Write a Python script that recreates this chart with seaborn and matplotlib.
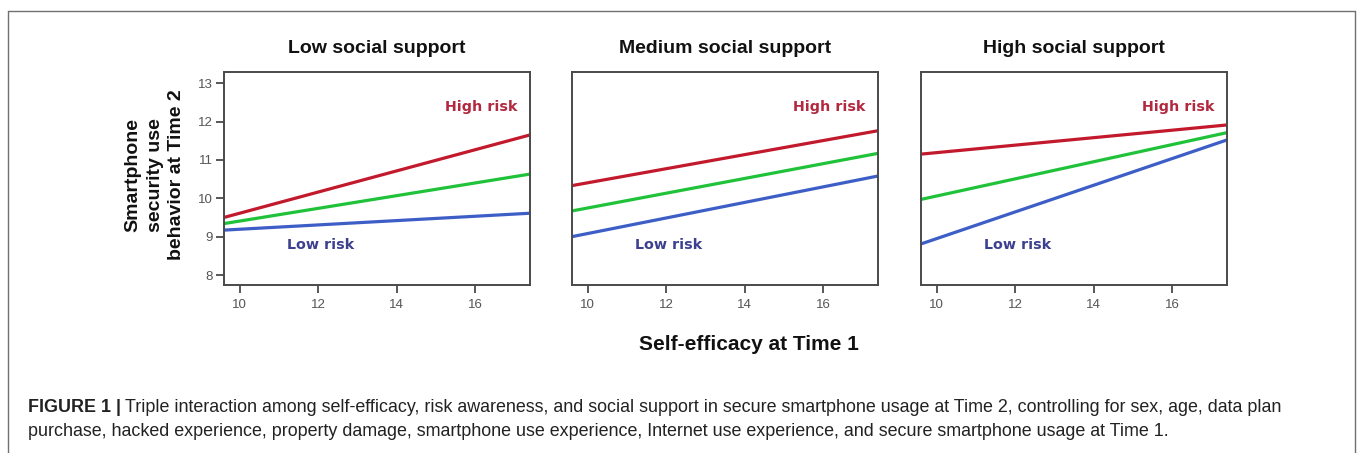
import matplotlib
matplotlib.use("Agg")
import matplotlib.pyplot as plt
from matplotlib.lines import Line2D
import numpy as np
import pandas as pd
import seaborn as sns

# Simple slopes: predicted security behaviour at the two ends of the
# self-efficacy range, for each social-support panel and risk level.
panels = ["Low social support", "Medium social support", "High social support"]
efficacy_range = [9.6, 17.4]
high_risk_start = [9.50, 10.33, 11.15]
high_risk_end = [11.65, 11.76, 11.91]
mean_risk_start = [9.34, 9.67, 9.97]
mean_risk_end = [10.63, 11.17, 11.71]
low_risk_start = [9.17, 9.00, 8.81]
low_risk_end = [9.61, 10.58, 11.52]

x_ticks = [10, 12, 14, 16]
y_ticks = [8, 9, 10, 11, 12, 13]

risk_order = ["High", "Mean", "Low"]
palette = {"High": "#c21a2c", "Mean": "#20c23a", "Low": "#3d5ec6"}

rows = []
for i, panel in enumerate(panels):
    for risk, starts, ends in [("High", high_risk_start, high_risk_end),
                               ("Mean", mean_risk_start, mean_risk_end),
                               ("Low", low_risk_start, low_risk_end)]:
        rows.append((panel, risk, efficacy_range[0], starts[i]))
        rows.append((panel, risk, efficacy_range[1], ends[i]))
df = pd.DataFrame(rows, columns=["support", "risk", "efficacy", "behavior"])

sns.set_theme(style="white")
plt.rcParams["font.family"] = ["Liberation Sans", "DejaVu Sans"]

W, H = 1358, 453
fig = plt.figure(figsize=(W / 100, H / 100), dpi=100)
fig.patch.set_facecolor("white")

axes_left = [224, 572, 921]
ax_w, ax_top, ax_bot = 306, 72, 285
spine_col = "#4a4a4a"

for i, panel in enumerate(panels):
    ax = fig.add_axes([axes_left[i] / W, 1 - ax_bot / H, ax_w / W, (ax_bot - ax_top) / H])
    sub = df[df["support"] == panel]
    sns.lineplot(data=sub, x="efficacy", y="behavior", hue="risk",
                 hue_order=risk_order, palette=palette, linewidth=2.3,
                 legend=False, ax=ax)
    ax.set_xlim(efficacy_range)
    ax.set_ylim(7.74, 13.29)
    ax.set_xticks(x_ticks)
    ax.set_xlabel("")
    ax.set_ylabel("")
    for s in ax.spines.values():
        s.set_color(spine_col)
        s.set_linewidth(1.4)
        s.set_visible(True)
    ax.tick_params(axis="x", direction="out", length=6, width=1.3,
                   color=spine_col, labelsize=9.5, labelcolor="#555555", pad=4,
                   bottom=True)
    if i == 0:
        ax.set_yticks(y_ticks)
        ax.tick_params(axis="y", direction="out", length=6, width=1.3,
                       color=spine_col, labelsize=9.5, labelcolor="#555555",
                       pad=2, left=True)
    else:
        ax.set_yticks([])
    ax.set_title(panel, fontsize=14, fontweight="bold", pad=14, color="#111111")
    ax.text(16.15, 12.37, "High risk", color="#b2283e", fontsize=10.3,
            fontweight="bold", ha="center", va="center", family="DejaVu Sans")
    ax.text(12.05, 8.79, "Low risk", color="#3c408f", fontsize=10.3,
            fontweight="bold", ha="center", va="center", family="DejaVu Sans")

fig.text(155 / W, 1 - 175 / H, "Smartphone\nsecurity use\nbehavior at Time 2",
         rotation=90, ha="center", va="center", fontsize=14,
         fontweight="bold", linespacing=1.38, color="#111111")
fig.text(749 / W, 1 - 345 / H, "Self-efficacy at Time 1", ha="center",
         va="center", fontsize=15, fontweight="bold", color="#111111")

# Caption
cap_col = "#222222"
cap_size = 12.9
t1 = fig.text(28 / W, 1 - 407 / H, "FIGURE 1 |", fontsize=cap_size,
              fontweight="bold", ha="left", va="center", color=cap_col)
fig.canvas.draw()
bb = t1.get_window_extent()
fig.text((bb.x1 + 4) / W, 1 - 407 / H,
         "Triple interaction among self-efficacy, risk awareness, and social "
         "support in secure smartphone usage at Time 2, controlling for sex, "
         "age, data plan", fontsize=cap_size, ha="left", va="center",
         color=cap_col)
fig.text(28 / W, 1 - 431 / H,
         "purchase, hacked experience, property damage, smartphone use "
         "experience, Internet use experience, and secure smartphone usage at "
         "Time 1.", fontsize=cap_size, ha="left", va="center", color=cap_col)

# Frame around the figure panel
frame_col = "#707070"
for xs, ys in [([7.5, 1355], [11, 11]), ([7.5, 7.5], [11, H + 2]),
               ([1355, 1355], [11, H + 2])]:
    fig.add_artist(Line2D([x / W for x in xs], [1 - y / H for y in ys],
                          color=frame_col, linewidth=1.0))

fig.savefig("out.png", dpi=100, facecolor="white")
